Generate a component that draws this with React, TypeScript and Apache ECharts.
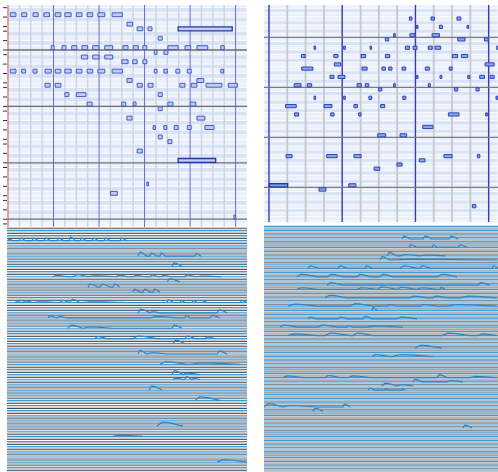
import React, { useEffect, useRef } from "react";
import * as echarts from "echarts";

// ---------- data ----------
// notes: [pitch, [[startBeat, durationBeats], ...]]
const TOP_LEFT_NOTES: [number, number[][]][] = [
  [91, [[0.2, 0.5], [1.2, 0.45], [2.2, 0.45], [3.15, 0.5], [4.15, 0.5], [5.0, 0.55], [6.0, 0.5], [6.95, 0.5], [7.9, 0.6], [9.15, 0.9]]],
  [89, [[10.45, 0.5]]],
  [88, [[11.35, 0.5], [12.3, 0.35], [14.95, 4.75]]],
  [86, [[13.2, 0.35]]],
  [84, [[3.8, 0.25], [4.75, 0.35], [5.6, 0.45], [6.5, 0.5], [7.45, 0.55], [8.5, 0.7], [10.1, 0.45], [11.0, 0.45], [11.85, 0.35], [14.05, 0.9], [15.55, 0.5], [16.6, 0.95], [18.7, 0.3]]],
  [83, [[12.85, 0.25], [13.7, 0.35]]],
  [82, [[6.45, 0.55], [7.45, 0.55], [8.5, 0.7]]],
  [81, [[10.0, 0.55], [10.95, 0.4], [11.85, 0.35]]],
  [79, [[0.2, 0.5], [1.2, 0.35], [2.2, 0.35], [3.25, 0.55], [4.15, 0.5], [5.0, 0.55], [6.0, 0.5], [6.95, 0.5], [7.9, 0.6], [9.15, 0.9], [12.85, 0.25], [13.7, 0.3], [14.75, 0.35], [15.75, 0.35], [18.7, 0.25]]],
  [77, [[10.45, 0.45], [16.6, 0.6]]],
  [76, [[3.25, 0.45], [4.15, 0.5], [11.35, 0.45], [12.3, 0.45], [15.1, 0.45], [16.1, 0.5], [17.4, 1.4], [19.35, 0.8]]],
  [74, [[5.0, 0.35], [6.0, 0.85], [13.2, 0.35]]],
  [72, [[6.95, 0.45], [10.0, 0.35], [11.0, 0.25], [14.05, 0.45], [16.0, 0.5]]],
  [71, [[13.2, 0.35]]],
  [69, [[10.45, 0.45], [16.6, 0.7]]],
  [67, [[12.75, 0.2], [13.7, 0.25], [14.6, 0.35], [15.75, 0.35], [17.3, 0.8]]],
  [65, [[13.2, 0.35]]],
  [64, [[14.05, 0.35]]],
  [62, [[11.35, 0.45]]],
  [60, [[14.95, 3.3]]],
  [55, [[12.2, 0.1]]],
  [53, [[9.0, 0.6]]],
  [48, [[19.85, 0.15]]],
];
const TOP_LEFT_SELECTED: number[][] = [[88, 14.95], [60, 14.95]];

const TOP_RIGHT_NOTES: [number, number[][]][] = [
  [88, [[7.67, 0.14], [8.85, 0.18], [10.27, 0.21]]],
  [86, [[8.05, 0.08], [9.31, 0.16], [10.82, 0.07]]],
  [84, [[6.81, 0.08], [7.7, 0.28], [8.91, 0.4]]],
  [83, [[6.36, 0.18], [10.31, 0.4], [11.77, 0.21]]],
  [81, [[2.46, 0.09], [4.08, 0.07], [5.52, 0.07], [7.45, 0.22], [7.87, 0.22], [8.7, 0.22], [9.07, 0.31], [12.44, 0.1]]],
  [79, [[1.77, 0.21], [3.54, 0.23], [5.03, 0.25], [6.36, 0.24], [10.02, 0.29], [10.51, 0.35]]],
  [77, [[3.57, 0.35], [11.8, 0.5]]],
  [76, [[1.79, 0.61], [5.08, 0.28], [6.17, 0.19], [6.54, 0.18], [7.27, 0.2], [8.54, 0.22], [9.85, 0.15]]],
  [74, [[3.33, 0.22], [3.77, 0.38], [8.05, 0.08], [9.34, 0.1], [10.86, 0.11], [11.51, 0.26], [12.08, 0.22]]],
  [72, [[1.38, 0.37], [2.09, 0.24], [4.81, 0.23], [5.26, 0.19], [6.81, 0.06], [8.7, 0.11]]],
  [71, [[5.99, 0.17], [10.13, 0.18], [11.31, 0.17]]],
  [69, [[2.46, 0.09], [4.08, 0.07], [5.46, 0.15], [7.31, 0.16], [12.4, 0.1]]],
  [67, [[0.91, 0.58], [3.01, 0.43], [4.64, 0.19], [6.1, 0.22]]],
  [65, [[1.4, 0.22], [3.37, 0.18], [4.9, 0.13], [9.8, 0.58], [11.84, 0.07]]],
  [62, [[8.4, 0.56]]],
  [60, [[5.94, 0.44], [7.16, 0.36]]],
  [55, [[0.93, 0.33], [3.15, 0.57], [4.64, 0.39], [9.56, 0.44], [11.38, 0.14]]],
  [54, [[8.21, 0.31]]],
  [53, [[6.99, 0.28]]],
  [52, [[5.74, 0.31]]],
  [48, [[0.02, 1.0], [4.36, 0.39]]],
  [47, [[2.73, 0.38]]],
  [43, [[11.11, 0.19]]],
];
const TOP_RIGHT_SELECTED: number[][] = [[48, 0.02]];

// envelope traces: [pitch, [[startBeat, endBeat, height], ...]]
const BOTTOM_LEFT_TRACES: [number, number[][]][] = [
  [91, [[0.0, 0.45, 0.3], [0.97, 1.55, 0.5], [2.11, 2.7, 0.5], [3.16, 3.75, 0.5], [4.31, 4.9, 0.5], [5.36, 5.95, 0.7], [6.33, 6.9, 0.5], [7.38, 7.95, 0.5], [8.44, 9.0, 0.5], [9.84, 10.45, 0.5]]],
  [88, [[11.42, 12.21, 0.8], [12.48, 13.09, 0.6], [13.36, 13.8, 0.6], [16.43, 16.96, 0.5]]],
  [86, [[14.41, 15.29, 0.7]]],
  [84, [[3.95, 5.2, 0.25], [5.8, 7.0, 0.45], [7.0, 9.5, 0.2], [9.5, 10.5, 0.3], [11.0, 12.0, 0.25], [12.5, 13.2, 0.35], [13.5, 14.3, 0.3], [15.5, 16.5, 0.35], [16.5, 18.7, 0.15]]],
  [83, [[13.97, 15.11, 0.6]]],
  [82, [[7.03, 7.91, 0.6], [8.08, 8.96, 0.6], [9.23, 9.84, 0.6]]],
  [81, [[10.98, 11.6, 0.6], [11.86, 12.48, 0.6], [12.74, 13.36, 0.6]]],
  [79, [[0.6, 1.3, 0.15], [1.32, 2.2, 0.3], [2.2, 4.57, 0.15], [4.57, 5.45, 0.4], [5.45, 6.33, 0.6], [6.33, 10.5, 0.15], [13.97, 14.5, 0.5], [15.11, 15.55, 0.4], [16.17, 16.61, 0.4], [17.14, 17.49, 0.3], [20.4, 21.0, 0.4]]],
  [77, [[11.42, 12.48, 0.7], [12.48, 13.36, 0.2], [18.37, 19.24, 0.6]]],
  [76, [[3.5, 4.3, 0.4], [4.3, 5.2, 0.3], [12.48, 14.85, 0.3], [15.55, 16.0, 0.5], [17.75, 18.63, 0.5]]],
  [74, [[5.27, 6.59, 0.6], [6.59, 9.23, 0.25], [14.41, 15.29, 0.6]]],
  [72, [[7.64, 8.7, 0.4], [10.98, 13.09, 0.5], [15.55, 16.43, 0.5], [17.31, 18.19, 0.3]]],
  [71, [[14.5, 15.55, 0.7]]],
  [69, [[11.42, 12.21, 0.7], [12.21, 13.97, 0.25], [18.37, 19.24, 0.6]]],
  [67, [[13.36, 15.73, 0.5], [15.99, 20.39, 0.25]]],
  [65, [[14.41, 15.38, 0.8], [15.38, 16.87, 0.3]]],
  [64, [[14.5, 15.5, 0.3], [15.55, 16.17, 0.6], [16.17, 16.87, 0.3]]],
  [62, [[12.39, 13.53, 0.8]]],
  [60, [[16.43, 18.63, 0.7]]],
  [55, [[13.09, 15.38, 0.8]]],
  [53, [[9.23, 11.86, 0.25]]],
  [48, [[18.37, 21.0, 0.5]]],
];

const BOTTOM_RIGHT_TRACES: [number, number[][]][] = [
  [88, [[7.27, 7.7, 0.7], [8.42, 8.91, 0.7], [9.84, 10.33, 0.7]]],
  [86, [[7.65, 8.09, 0.6], [8.91, 9.18, 0.6], [10.33, 10.82, 0.6]]],
  [84, [[6.45, 6.99, 0.8], [7.16, 8.25, 0.3], [8.25, 9.62, 0.2]]],
  [83, [[6.07, 6.61, 0.8], [6.61, 12.5, 0.2]]],
  [81, [[2.13, 2.68, 0.6], [3.77, 4.26, 0.6], [5.25, 5.63, 0.6], [7.16, 8.09, 0.6], [8.25, 8.8, 0.6], [12.19, 12.5, 0.6]]],
  [79, [[1.53, 2.62, 0.6], [3.22, 4.04, 0.6], [4.81, 5.52, 0.6], [6.07, 6.78, 0.6], [9.23, 10.27, 0.6]]],
  [77, [[3.17, 4.04, 0.6], [11.42, 12.08, 0.6]]],
  [76, [[1.53, 2.62, 0.4], [4.81, 5.9, 0.4], [5.9, 6.99, 0.6], [6.99, 8.09, 0.5], [8.09, 9.18, 0.4], [9.34, 9.62, 0.5]]],
  [74, [[3.06, 4.26, 0.6], [7.7, 8.63, 0.4], [8.96, 9.73, 0.4], [10.44, 12.46, 0.4]]],
  [72, [[1.04, 2.62, 0.5], [4.43, 5.68, 0.6], [6.45, 6.99, 0.4], [8.25, 9.18, 0.4], [9.73, 12.46, 0.4]]],
  [71, [[5.63, 5.9, 0.7]]],
  [69, [[2.13, 2.62, 0.4], [3.77, 4.26, 0.4], [5.14, 5.63, 0.6], [6.99, 8.09, 0.4]]],
  [67, [[0.6, 1.53, 0.5], [2.68, 3.72, 0.5], [4.26, 4.59, 0.4], [5.36, 7.32, 0.3]]],
  [65, [[1.04, 2.62, 0.4], [3.06, 4.43, 0.6], [4.59, 5.68, 0.6], [9.45, 10.98, 0.6], [11.42, 12.46, 0.4]]],
  [62, [[7.98, 9.45, 0.7]]],
  [60, [[5.63, 6.61, 0.5], [6.72, 8.96, 0.5]]],
  [55, [[0.77, 1.86, 0.4], [3.06, 3.88, 0.5], [4.32, 5.52, 0.4], [9.18, 9.73, 0.7], [10.98, 12.46, 0.3]]],
  [54, [[7.87, 8.36, 0.6], [9.73, 10.6, 0.3]]],
  [53, [[6.17, 6.99, 0.7], [6.99, 7.87, 0.3]]],
  [52, [[5.41, 5.79, 0.5], [6.34, 6.5, 0.4], [7.27, 7.43, 0.4]]],
  [48, [[-0.27, 0.77, 0.8], [0.77, 2.62, 0.35], [4.04, 4.43, 0.7]]],
  [47, [[2.4, 2.95, 0.7]]],
  [43, [[10.6, 11.09, 0.7]]],
];

const LEFT_BEATS = [1, 2, 3, 5, 6, 7, 9, 10, 11, 13, 14, 15, 17, 18, 19];
const LEFT_BARS = [4, 8, 12, 16, 20];
const RIGHT_BEATS = [1, 2, 3, 5, 6, 7, 9, 10, 11];
const RIGHT_BARS = [0, 4, 8, 12];
const OCTAVES = [48, 60, 72, 84];
const BLACK_KEYS = [1, 3, 6, 8, 10];

const range = (a: number, b: number) => {
  const r: number[] = [];
  for (let i = a; i <= b; i++) r.push(i);
  return r;
};

// ---------- helpers ----------
const AX = {
  tl: { x: [-0.088, 21.0], y: [46.77, 93.57] },
  tr: { x: [-0.273, 12.51], y: [39.71, 91.75] },
  bl: { x: [-0.088, 21.0], y: [46.09, 93.47] },
  br: { x: [-0.273, 12.51], y: [32.52, 91.1] },
};

function stripes(idx: number, pitches: number[], black: string, white: string) {
  return {
    type: "custom",
    xAxisIndex: idx,
    yAxisIndex: idx,
    silent: true,
    data: pitches.map((p) => [0, p]),
    renderItem: (params: any, api: any) => {
      const cs = params.coordSys;
      const p = api.value(1);
      const yt = api.coord([0, p + 1])[1];
      const yb = api.coord([0, p])[1];
      const y0 = Math.max(yt, cs.y);
      const y1 = Math.min(yb, cs.y + cs.height);
      if (y1 <= y0) return { type: "group", children: [] };
      const isBlack = BLACK_KEYS.includes(((p % 12) + 12) % 12);
      return {
        type: "rect",
        shape: { x: cs.x, y: y0, width: cs.width, height: y1 - y0 },
        style: { fill: isBlack ? black : white, stroke: "#ffffff", lineWidth: 0.6 },
      };
    },
  };
}

function vlines(idx: number, beats: number[], yv: number, color: string, width: number, ext: number, first?: string) {
  return {
    type: "custom",
    xAxisIndex: idx,
    yAxisIndex: idx,
    silent: true,
    data: beats.map((b) => [b, yv]),
    renderItem: (params: any, api: any) => {
      const cs = params.coordSys;
      const b = api.value(0);
      const x = api.coord([b, api.value(1)])[0];
      return {
        type: "line",
        shape: { x1: x, y1: cs.y, x2: x, y2: cs.y + cs.height + ext },
        style: { stroke: first && b === 0 ? first : color, lineWidth: width },
      };
    },
  };
}

function hlines(idx: number, values: number[], color: string, width: number) {
  return {
    type: "custom",
    xAxisIndex: idx,
    yAxisIndex: idx,
    silent: true,
    data: values.map((v) => [0, v]),
    renderItem: (params: any, api: any) => {
      const cs = params.coordSys;
      const y = api.coord([0, api.value(1)])[1];
      return {
        type: "line",
        shape: { x1: cs.x, y1: y, x2: cs.x + cs.width, y2: y },
        style: { stroke: color, lineWidth: width },
      };
    },
  };
}

function keyTicks(idx: number, pitches: number[]) {
  return {
    type: "custom",
    xAxisIndex: idx,
    yAxisIndex: idx,
    silent: true,
    data: pitches.filter((p) => !BLACK_KEYS.includes(p % 12)).map((p) => [0, p]),
    renderItem: (params: any, api: any) => {
      const cs = params.coordSys;
      const y = api.coord([0, api.value(1)])[1];
      if (y < cs.y || y > cs.y + cs.height) return { type: "group", children: [] };
      return {
        type: "line",
        shape: { x1: cs.x - 4, y1: y, x2: cs.x, y2: y },
        style: { stroke: "#333333", lineWidth: 1 },
      };
    },
  };
}

function notes(idx: number, list: [number, number[][]][], selected: number[][], fill: string, stroke: string, pad: number) {
  const data: number[][] = [];
  list.forEach(([p, ns]) =>
    ns.forEach(([s, d]) => {
      const sel = selected.some(([sp, ss]) => sp === p && ss === s) ? 1 : 0;
      data.push([s, p, d, sel]);
    })
  );
  return {
    type: "custom",
    xAxisIndex: idx,
    yAxisIndex: idx,
    silent: true,
    data,
    renderItem: (params: any, api: any) => {
      const s = api.value(0), p = api.value(1), d = api.value(2), sel = api.value(3);
      const a = api.coord([s, p + 1]);
      const b = api.coord([s + d, p]);
      return {
        type: "rect",
        shape: { x: a[0], y: a[1] + pad, width: Math.max(b[0] - a[0], 1.6), height: b[1] - a[1] - 2 * pad },
        style: { fill, stroke: sel ? "#26339e" : stroke, lineWidth: sel ? 1.3 : 1 },
      };
    },
  };
}

function rowLines(idx: number, pitches: number[], gOff: number, dOff: number, gray: string, dark: string, dw: number) {
  return {
    type: "custom",
    xAxisIndex: idx,
    yAxisIndex: idx,
    silent: true,
    data: pitches.map((p) => [0, p]),
    renderItem: (params: any, api: any) => {
      const cs = params.coordSys;
      const p = api.value(1);
      const defs: [number, string, number][] = [
        [gOff, gray, 0.9],
        [dOff, dark, dw],
        [0, "#3d98d6", 1.2],
      ];
      const children: any[] = [];
      defs.forEach(([o, c, w]) => {
        const y = api.coord([0, p + o])[1];
        if (y < cs.y - 0.5 || y > cs.y + cs.height + 0.5) return;
        children.push({
          type: "line",
          shape: { x1: cs.x, y1: y, x2: cs.x + cs.width, y2: y },
          style: { stroke: c, lineWidth: w },
        });
      });
      return { type: "group", children };
    },
  };
}

function traces(idx: number, list: [number, number[][]][]) {
  return list.map(([p, bumps]) => {
    const pts: number[][] = [];
    bumps.forEach(([s, e, h]) => {
      const w = e - s;
      pts.push([s, p], [s + w * 0.2, p + h], [s + w * 0.45, p + h * 0.85], [e, p]);
    });
    return {
      type: "line",
      xAxisIndex: idx,
      yAxisIndex: idx,
      data: pts,
      showSymbol: false,
      symbol: "none",
      silent: true,
      z: 3,
      lineStyle: { color: "#2c86c6", width: 1.2 },
    };
  });
}

function buildOption() {
  const grids = [
    { left: 7, top: 5, width: 240, height: 220 },
    { left: 264, top: 5, width: 234, height: 217 },
    { left: 7, top: 228, width: 240, height: 244 },
    { left: 264, top: 226, width: 234, height: 246 },
  ];
  const keys = ["tl", "tr", "bl", "br"] as const;
  return {
    animation: false,
    backgroundColor: "#ffffff",
    grid: grids.map((g) => ({ ...g, containLabel: false, show: false })),
    xAxis: keys.map((k, i) => ({ type: "value", gridIndex: i, min: AX[k].x[0], max: AX[k].x[1], show: false })),
    yAxis: keys.map((k, i) => ({ type: "value", gridIndex: i, min: AX[k].y[0], max: AX[k].y[1], show: false })),
    series: [
      stripes(0, range(46, 93), "#d8e3f7", "#ebf1fc"),
      stripes(1, range(39, 91), "#d8e3f7", "#ebf1fc"),
      vlines(0, LEFT_BEATS, 50, "#d2d5de", 1.5, 2),
      vlines(1, RIGHT_BEATS, 50, "#c8c8cc", 1.8, 0),
      vlines(0, [0, ...LEFT_BARS], 50, "#6a6ad4", 1, 2, "#d9534f"),
      vlines(1, RIGHT_BARS, 50, "#3a3ab4", 1.4, 0),
      hlines(0, OCTAVES, "#6c6c6c", 1.3),
      hlines(1, OCTAVES, "#7c7c7c", 1.3),
      keyTicks(0, range(47, 93)),
      notes(0, TOP_LEFT_NOTES, TOP_LEFT_SELECTED, "#bccff2", "#4657c8", 0.4),
      notes(1, TOP_RIGHT_NOTES, TOP_RIGHT_SELECTED, "#88a8ee", "#2f3fb6", 0.5),
      rowLines(2, range(46, 94), -0.3, -0.58, "#a4a6a8", "#47525e", 1),
      rowLines(3, range(32, 92), -0.33, -0.62, "#b2b4b6", "#56606a", 0.8),
      ...traces(2, BOTTOM_LEFT_TRACES),
      ...traces(3, BOTTOM_RIGHT_TRACES),
    ],
  };
}

export default function App() {
  const ref = useRef<HTMLDivElement>(null);
  useEffect(() => {
    document.body.style.margin = "0";
    const chart = echarts.init(ref.current!, undefined, { renderer: "svg", width: 498, height: 472 });
    chart.setOption(buildOption() as any);
    return () => chart.dispose();
  }, []);
  return <div ref={ref} style={{ position: "absolute", left: 0, top: 0, width: 498, height: 472 }} />;
}
